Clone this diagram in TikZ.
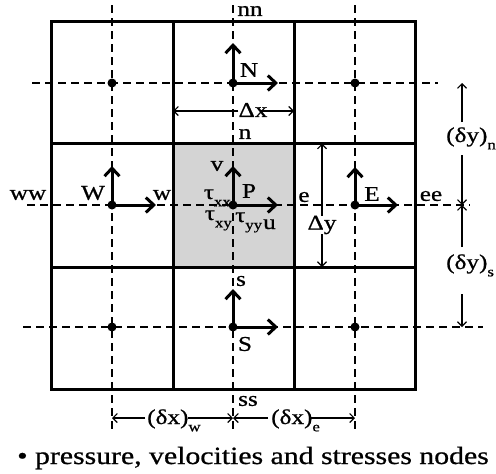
\documentclass[tikz,border=0pt]{standalone}
\usepackage{fontspec}
\setmainfont[FakeStretch=1.2,FakeBold=0.8]{Liberation Serif}
\usetikzlibrary{arrows.meta}
\newcommand\lsub[1]{\raisebox{-0.35em}{\fontsize{14}{14}\selectfont #1}}
\begin{document}
\begin{tikzpicture}[x=1pt,y=-1pt,
  gridline/.style={line width=3pt},
  dline/.style={line width=2.2pt, dash pattern=on 8pt off 5pt},
  dot/.style={circle, fill=black, inner sep=0pt, minimum size=9pt},
  vec/.style={line width=3pt, -{Straight Barb[length=8pt,width=15pt]}},
  dim/.style={line width=1.1pt, -{Straight Barb[length=4.5pt,width=9pt]}},
  lbl/.style={font=\fontsize{21}{21}\selectfont, inner sep=0pt},
  ]
\useasboundingbox (0,0) rectangle (496,474);
% shaded control volume
\fill[black!17] (173,143.5) rectangle (294,267);
% dashed grid lines
\draw[dline] (112,5) -- (112,433);
\draw[dline] (233,5) -- (233,433);
\draw[dline] (355,5) -- (355,433);
\draw[dline] (32,83) -- (438,83);
\draw[dline] (27,205) -- (470,205);
\draw[dline] (23,327) -- (483,327);
% solid grid
\draw[gridline] (51,21) rectangle (415,389);
\draw[gridline] (173,21) -- (173,389);
\draw[gridline] (294,21) -- (294,389);
\draw[gridline] (51,143.5) -- (415,143.5);
\draw[gridline] (51,267) -- (415,267);
% nodes
\node[dot] (NW) at (112,83) {};
\node[dot] (N)  at (233,83) {};
\node[dot] (NE) at (355,83) {};
\node[dot] (W)  at (112,205) {};
\node[dot] (P)  at (233,205) {};
\node[dot] (E)  at (355,205) {};
\node[dot] (SW) at (112,327) {};
\node[dot] (S)  at (233,327) {};
\node[dot] (SE) at (355,327) {};
% velocity vectors
\coordinate (Wv) at (112,166); \coordinate (Wu) at (156,205);
\coordinate (Pv) at (233,166); \coordinate (Pu) at (278,205);
\coordinate (Ev) at (355,167); \coordinate (Eu) at (398,205);
\coordinate (Nv) at (233,43);  \coordinate (Nu) at (278,83);
\coordinate (Sv) at (233,289); \coordinate (Su) at (278,327);
\draw[vec] (W.center) -- (Wv); \draw[vec] (W.center) -- (Wu);
\draw[vec] (P.center) -- (Pv); \draw[vec] (P.center) -- (Pu);
\draw[vec] (E.center) -- (Ev); \draw[vec] (E.center) -- (Eu);
\draw[vec] (N.center) -- (Nv); \draw[vec] (N.center) -- (Nu);
\draw[vec] (S.center) -- (Sv); \draw[vec] (S.center) -- (Su);
% labels
\node[lbl] (lnn) at (250,11) {nn};
\node[lbl] (lN) at (249,70) {N};
\node[lbl] (ln) at (245,134) {n};
\node[lbl] (lv) at (217,166) {v};
\node[lbl, anchor=base east] (ltxx) at (231,199) {τ\lsub{xx}};
\node[lbl] (lP) at (249,191) {P};
\node[lbl, anchor=base east] (ltxy) at (232,220) {τ\lsub{xy}};
\node[lbl, anchor=base west] (ltyy) at (235,222) {τ\lsub{yy}};
\node[lbl, anchor=base west] (lu) at (263,229) {u};
\node[lbl] (lW) at (93,193) {W};
\node[lbl] (lw) at (162,195) {w};
\node[lbl] (lww) at (28,195) {ww};
\node[lbl] (le) at (304,197) {e};
\node[lbl] (lE) at (372,194) {E};
\node[lbl] (lee) at (431,196) {ee};
\node[lbl] (ls) at (241,281) {s};
\node[lbl] (lS) at (245,344) {S};
\node[lbl] (lss) at (248,401) {ss};
% dimension arrows
\node[lbl] (dx) at (253,110) {Δx};
\coordinate (dxL) at (173,111); \coordinate (dxR) at (294,111);
\coordinate (dxM) at (260,111);
\draw[dim] (dx.west |- dxL) -- (dxL);
\draw[dim] (dxM) -- (dxR);
\node[lbl] (dy) at (322,225) {Δy};
\coordinate (dyT) at (322,143.5); \coordinate (dyB) at (322,267);
\draw[dim] (dy.north) -- (dyT);
\draw[dim] (dy.south) -- (dyB);
\node[lbl, anchor=base west] (dyn) at (446,142) {(δy)\lsub{n}};
\coordinate (dyn1) at (462,122); \coordinate (dyn2) at (462,83);
\coordinate (dyn3) at (462,155); \coordinate (dyn4) at (462,205);
\draw[dim] (dyn1) -- (dyn2);
\draw[dim] (dyn3) -- (dyn4);
\node[lbl, anchor=base west] (dys) at (446,269) {(δy)\lsub{s}};
\coordinate (dys1) at (462,247); \coordinate (dys2) at (462,205);
\coordinate (dys3) at (462,294); \coordinate (dys4) at (462,327);
\draw[dim] (dys1) -- (dys2);
\draw[dim] (dys3) -- (dys4);
\node[lbl, anchor=base west] (dxw) at (147,424) {(δx)\lsub{w}};
\coordinate (dxw1) at (145,418); \coordinate (dxw2) at (112,418);
\coordinate (dxw3) at (188,418); \coordinate (dxw4) at (233,418);
\draw[dim] (dxw1) -- (dxw2);
\draw[dim] (dxw3) -- (dxw4);
\node[lbl, anchor=base west] (dxe) at (271,424) {(δx)\lsub{e}};
\coordinate (dxe1) at (268,418); \coordinate (dxe2) at (233,418);
\coordinate (dxe3) at (310,418); \coordinate (dxe4) at (355,418);
\draw[dim] (dxe1) -- (dxe2);
\draw[dim] (dxe3) -- (dxe4);
% caption
\node[font=\fontsize{24.8}{24.8}\selectfont, inner sep=0pt, anchor=base west] (cap) at (17,464) {• pressure, velocities and stresses nodes};
\end{tikzpicture}
\end{document}
